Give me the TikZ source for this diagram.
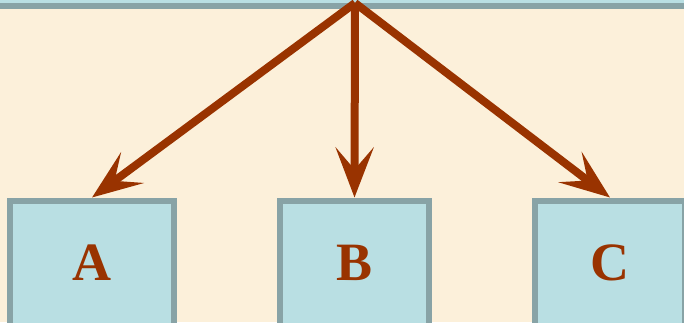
\documentclass[tikz,border=0pt]{standalone}
\usepackage{fontspec}
\setmainfont{Liberation Serif}
\usetikzlibrary{arrows.meta}
\definecolor{cream}{HTML}{FCF0DA}
\definecolor{boxfill}{HTML}{B9DFE3}
\definecolor{boxline}{HTML}{88A3A6}
\definecolor{rust}{HTML}{993300}
\newcommand{\boxlbl}{\fontsize{54}{60}\selectfont\bfseries}

\begin{document}
\begin{tikzpicture}[x=1pt,y=-1pt,
    pane/.style={draw=boxline,fill=boxfill,line width=6pt,minimum height=125pt,text=rust,font=\boxlbl},
    link/.style={rust,line width=8pt,-{Stealth[length=50pt,width=38pt,inset=22pt]}}]
  \useasboundingbox (0,0) rectangle (684,322);
  \clip (0,0) rectangle (684,322);
  \fill[cream] (0,0) rectangle (684,322);
  % top bar and the three boxes
  \node[pane,minimum width=720pt,minimum height=26pt] (bar) at (342,-7.5) {};
  \node[pane,minimum width=164pt] (A) at (92,263) {A};
  \node[pane,minimum width=149pt] (B) at (354.5,263) {B};
  \node[pane,minimum width=150pt] (C) at (610,263) {C};
  \coordinate (apex) at (355,3);
  % arrows
  \draw[link] (apex) -- (A.north);
  \draw[link] (apex) -- (B.north);
  \draw[link] (apex) -- (C.north);
\end{tikzpicture}
\end{document}
